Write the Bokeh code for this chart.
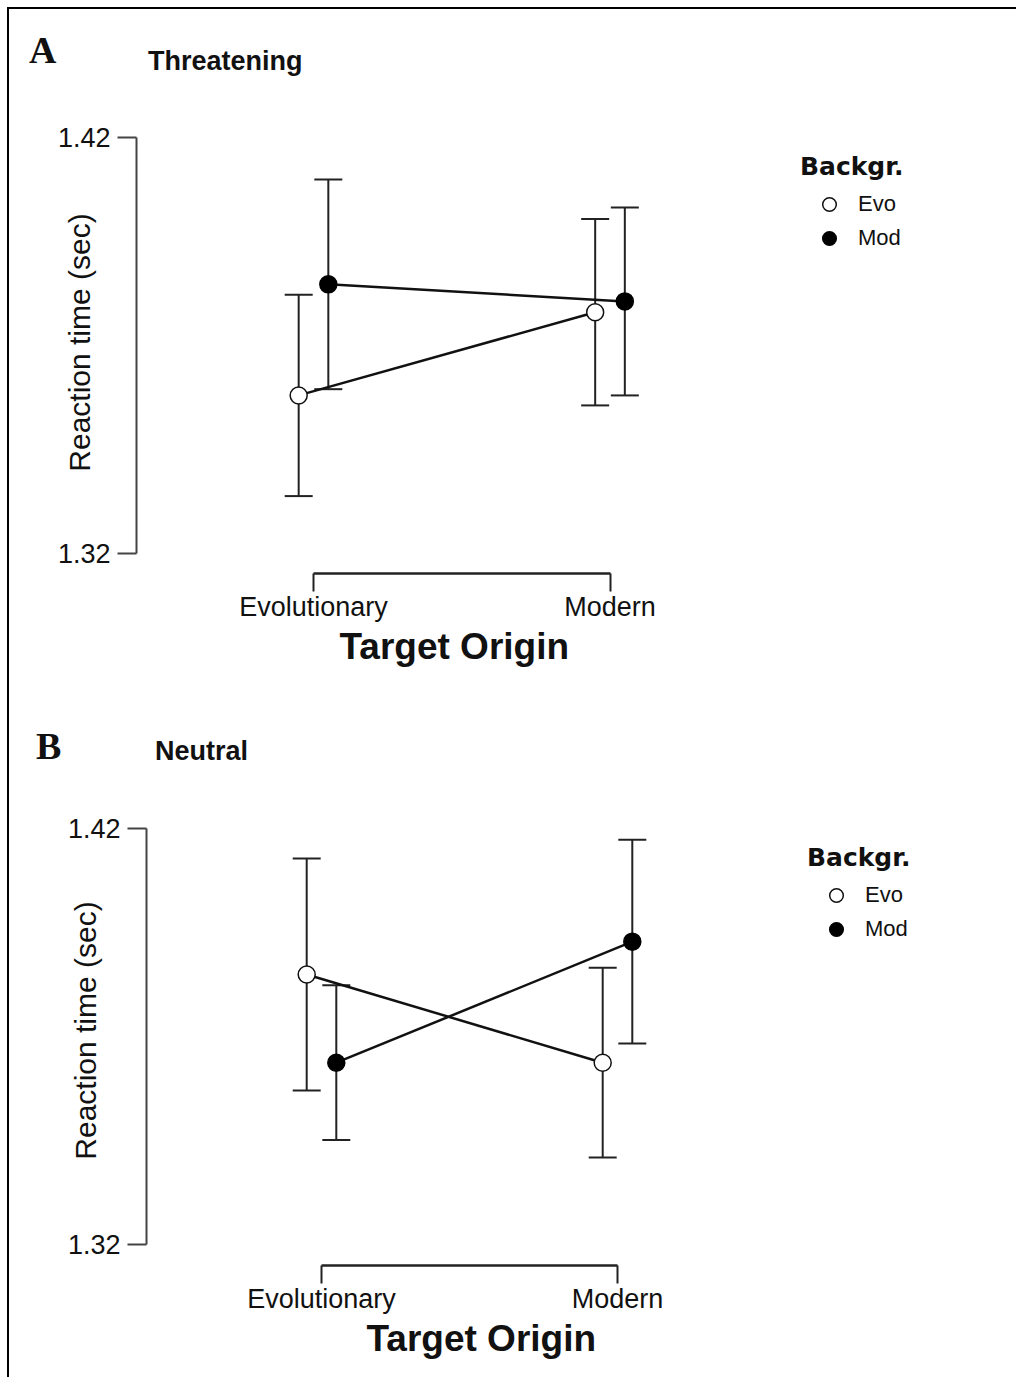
from bokeh.plotting import figure
from bokeh.models import (ColumnDataSource, Whisker, TeeHead, FixedTicker, Legend,
                          LegendItem, Range1d, Div, Title)
from bokeh.layouts import column
from bokeh.embed import file_html
from bokeh.resources import INLINE

# ---------------- data ----------------
targets = ["Evolutionary", "Modern"]
backgrounds = ["Evo", "Mod"]
y_ticks = [1.32, 1.42]

thr_evo_mean = [1.358, 1.378]
thr_evo_se = [0.0242, 0.0224]
thr_mod_mean = [1.3847, 1.3806]
thr_mod_se = [0.0252, 0.0226]

neu_evo_mean = [1.3849, 1.3637]
neu_evo_se = [0.0279, 0.0228]
neu_mod_mean = [1.3637, 1.3928]
neu_mod_se = [0.0186, 0.0245]

DODGE = 0.05
SANS = "Liberation Sans"
INK = "#111111"
PAGE_MARGIN = 7
FRAME_LINE = 2
OX = PAGE_MARGIN + FRAME_LINE  # page x of content origin
OY = PAGE_MARGIN + FRAME_LINE  # page y of content origin


def header(letter, title, g):
    sp = ("<span style=\"position:absolute;left:{l}px;top:{t}px;font-family:'{f}';"
          "font-weight:bold;font-size:{s}px;line-height:1;color:#111111;white-space:nowrap;\">{txt}</span>")
    html = ('<div style="position:relative;width:{w}px;height:{h}px;">'.format(w=g["W"], h=g["H"])
            + sp.format(l=g["letter_x"] - OX, t=g["letter_top"] - g["oy"], f="Liberation Serif",
                        s=38, txt=letter)
            + sp.format(l=g["title_x"] - OX, t=g["title_top"] - g["oy"], f=SANS, s=27, txt=title)
            + "</div>")
    return Div(text=html, width=g["W"], height=g["H"], margin=0)


def make_panel(evo_mean, evo_se, mod_mean, mod_se, g):
    kx = g["px_x1"] - g["px_x0"]
    ky = (g["px_lo"] - g["px_hi"]) / (y_ticks[1] - y_ticks[0])
    x_start = (g["axis_x"] - g["px_x0"]) / kx
    x_end = (g["frame_right"] - g["px_x0"]) / kx
    y_end = y_ticks[1] + (g["px_hi"] - g["frame_top"]) / ky
    y_start = y_ticks[0] - (g["frame_bottom"] - g["px_lo"]) / ky

    p = figure(width=g["W"], height=g["H"], output_backend="svg", toolbar_location=None,
               x_range=Range1d(x_start, x_end), y_range=Range1d(y_start, y_end),
               min_border_left=g["axis_x"] - OX,
               min_border_top=g["frame_top"] - g["oy"],
               min_border_bottom=g["oy"] + g["H"] - g["frame_bottom"],
               min_border_right=OX + g["W"] - g["frame_right"])
    if "frame_align" in p.properties():
        p.frame_align = False
    p.xgrid.visible = False
    p.ygrid.visible = False
    p.outline_line_color = None
    p.background_fill_color = "white"
    p.border_fill_color = "white"

    ya = p.yaxis[0]
    ya.ticker = FixedTicker(ticks=y_ticks)
    ya.bounds = (y_ticks[0], y_ticks[1])
    ya.minor_tick_line_color = None
    ya.major_tick_in = 0
    ya.major_tick_out = 19
    ya.axis_line_width = 2
    ya.axis_line_color = "#444444"
    ya.major_tick_line_width = 2
    ya.major_tick_line_color = "#444444"
    ya.major_label_text_font = SANS
    ya.major_label_text_font_size = "27px"
    ya.major_label_text_color = INK
    ya.major_label_standoff = 7
    ya.axis_label = "Reaction time (sec)"
    ya.axis_label_text_font = SANS
    ya.axis_label_text_font_size = "30px"
    ya.axis_label_text_font_style = "normal"
    ya.axis_label_text_color = INK
    ya.axis_label_standoff = g["ylab_standoff"]

    xa = p.xaxis[0]
    xa.ticker = FixedTicker(ticks=[0, 1])
    xa.major_label_overrides = {i: t for i, t in enumerate(targets)}
    xa.bounds = (0, 1)
    xa.minor_tick_line_color = None
    xa.major_tick_in = 0
    xa.major_tick_out = 18
    xa.axis_line_width = 2.5
    xa.axis_line_color = "#222222"
    xa.major_tick_line_width = 2
    xa.major_tick_line_color = "#222222"
    xa.major_label_text_font = SANS
    xa.major_label_text_font_size = "27px"
    xa.major_label_text_color = INK
    xa.major_label_standoff = 0

    # x-axis title, placed under the tick labels
    xt = Title(text="Target Origin", align="left", offset=g["xlab_left"] - g["axis_x"],
               vertical_align="top", text_font=SANS, text_font_size="37px",
               text_font_style="bold", text_color=INK, standoff=g["xlab_standoff"])
    p.add_layout(xt, "below")

    idx = list(range(len(targets)))
    evo_src = ColumnDataSource(dict(
        x=[i - DODGE for i in idx], y=evo_mean,
        upper=[m + s for m, s in zip(evo_mean, evo_se)],
        lower=[m - s for m, s in zip(evo_mean, evo_se)]))
    mod_src = ColumnDataSource(dict(
        x=[i + DODGE for i in idx], y=mod_mean,
        upper=[m + s for m, s in zip(mod_mean, mod_se)],
        lower=[m - s for m, s in zip(mod_mean, mod_se)]))

    for src in (evo_src, mod_src):
        w = Whisker(source=src, base="x", upper="upper", lower="lower", dimension="height",
                    line_color="#222222", line_width=2,
                    upper_head=TeeHead(size=28, line_color="#222222", line_width=2),
                    lower_head=TeeHead(size=28, line_color="#222222", line_width=2))
        w.level = "underlay"
        p.add_layout(w)

    p.line("x", "y", source=evo_src, line_color="#111111", line_width=2.5)
    p.line("x", "y", source=mod_src, line_color="#111111", line_width=2.5)
    r_evo = p.scatter("x", "y", source=evo_src, marker="circle", size=17,
                      fill_color="white", line_color="#111111", line_width=1.5)
    r_mod = p.scatter("x", "y", source=mod_src, marker="circle", size=17,
                      fill_color="#000000", line_color="#000000", line_width=1.5)

    legend = Legend(items=[LegendItem(label=backgrounds[0], renderers=[r_evo]),
                           LegendItem(label=backgrounds[1], renderers=[r_mod])],
                    location=(g["leg_x"] - g["axis_x"], g["frame_bottom"] - g["leg_bottom"]),
                    title="Backgr.", title_text_font="DejaVu Sans", title_text_font_style="bold",
                    title_text_font_size="25px", title_text_color=INK, title_standoff=6,
                    label_text_font=SANS, label_text_font_size="22px", label_text_color=INK,
                    glyph_width=58, glyph_height=34, spacing=0, label_standoff=0,
                    padding=0, margin=0, border_line_color=None, background_fill_alpha=0)
    p.add_layout(legend)
    return p


# layout geometry in page pixels
W = 1007
head_a = dict(oy=OY, H=91 - OY, W=W, letter_x=29, letter_top=31, title_x=148, title_top=48)
geom_a = dict(oy=91, H=604, W=W, axis_x=136, frame_top=111, frame_bottom=573,
              frame_right=1000, px_hi=137, px_lo=553, px_x0=313, px_x1=609.5,
              ylab_standoff=-41, xlab_left=339, xlab_standoff=3, leg_x=800, leg_bottom=255)
head_b = dict(oy=695, H=86, W=W, letter_x=36, letter_top=727, title_x=155, title_top=738)
geom_b = dict(oy=781, H=596, W=W, axis_x=146, frame_top=795, frame_bottom=1265,
              frame_right=1000, px_hi=828, px_lo=1244, px_x0=321, px_x1=617,
              ylab_standoff=-37, xlab_left=366, xlab_standoff=3, leg_x=807, leg_bottom=946)

hA = header("A", "Threatening", head_a)
pA = make_panel(thr_evo_mean, thr_evo_se, thr_mod_mean, thr_mod_se, geom_a)
hB = header("B", "Neutral", head_b)
pB = make_panel(neu_evo_mean, neu_evo_se, neu_mod_mean, neu_mod_se, geom_b)

layout = column(hA, pA, hB, pB, spacing=0, margin=(PAGE_MARGIN, 0, 0, PAGE_MARGIN),
                styles={"border-left": "%dpx solid #000000" % FRAME_LINE,
                        "border-top": "%dpx solid #000000" % FRAME_LINE})

open("out.html", "w").write(file_html(layout, INLINE))
